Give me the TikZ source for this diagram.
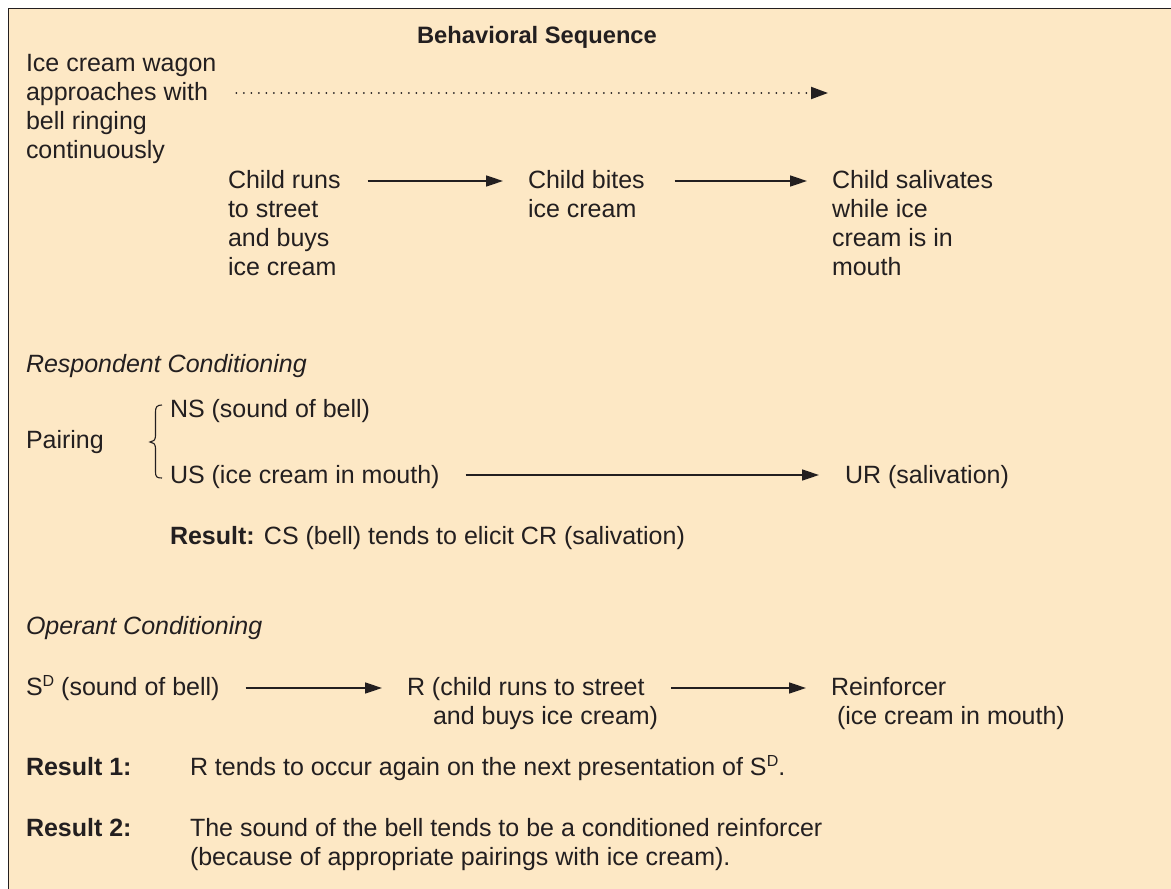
\documentclass[tikz,border=0pt]{standalone}
\usepackage{fontspec}
\setmainfont{Liberation Sans}
\usetikzlibrary{arrows.meta,calc}
\definecolor{panel}{RGB}{253,232,197}
\definecolor{ink}{RGB}{35,31,32}
% superscript D used in S^D
\newcommand\supD{\raisebox{9pt}{\fontsize{16}{16}\selectfont D}}
% left-aligned stack of lines whose baseline is that of the first line
\newcommand\linestack[1]{\begin{tabular}[t]{@{}l@{}}#1\end{tabular}}

\tikzset{
  txt/.style={inner sep=0pt, outer sep=0pt, text=ink, anchor=base west,
              font=\fontsize{25}{29}\selectfont},
  flow/.style={draw=ink, line width=1.6pt, -{Triangle[length=17pt,width=11pt]}},
  dotflow/.style={draw=ink, line width=2pt, line cap=round,
                  dash pattern=on 0pt off 7.5pt,
                  -{Triangle[length=17pt,width=12pt]}},
}

\begin{document}
\begin{tikzpicture}[x=1pt,y=-1pt]
\useasboundingbox (0,0) rectangle (1171,889);

% panel with top and left rule
\begin{scope}
  \clip (0,0) rectangle (1171,889);
  \fill[panel] (8.5,8.5) rectangle (1200,920);
  \draw[ink, line width=1.5pt] (1200,8.5) -- (8.5,8.5) -- (8.5,920);
\end{scope}

% ---- behavioral sequence ----
\node[txt, anchor=base, font=\fontsize{23.7}{29}\selectfont\bfseries] (title) at (537,43) {Behavioral Sequence};
\node[txt] (wagon) at (26,71) {\linestack{Ice cream wagon\\approaches with\\bell ringing\\continuously}};
\coordinate (dotend) at (828,93);
\draw[dotflow, shorten <=20pt] (wagon.east |- dotend) -- (dotend);

\node[txt] (runs) at (228,188) {\linestack{Child runs\\to street\\and buys\\ice cream}};
\node[txt] (bites) at (528,188) {\linestack{Child bites\\ice cream}};
\node[txt] (saliv) at (832,188) {\linestack{Child salivates\\while ice\\cream is in\\mouth}};
\draw[flow] ($(runs.base east)+(27,-7)$) -- ($(bites.base west)+(-25,-7)$);
\draw[flow] ($(bites.base east)+(30,-7)$) -- ($(saliv.base west)+(-25,-7)$);

% ---- respondent conditioning ----
\node[txt, font=\fontsize{25}{29}\selectfont\itshape] (resp) at (26,372) {Respondent Conditioning};
\node[txt] (pairing) at (26,448) {Pairing};
\node[txt] (ns) at (170,417) {NS (sound of bell)};
\node[txt] (us) at (170,483) {US (ice cream in mouth)};
\node[txt] (ur) at (845,483) {UR (salivation)};
\draw[flow] ($(us.base east)+(26,-8)$) -- ($(ur.base west)+(-26,-8)$);
% brace grouping NS and US
\draw[ink, line width=1.1pt]
  (162,405) .. controls (157,405) and (155.5,407) .. (155.5,412)
  -- (155.5,436) .. controls (155.5,440) and (153,442) .. (150,442)
  .. controls (153,442) and (155.5,444) .. (155.5,448)
  -- (155.5,472) .. controls (155.5,477) and (157,478) .. (162,478);
\node[txt] (res0) at (170,544) {\textbf{Result:} CS (bell) tends to elicit CR (salivation)};

% ---- operant conditioning ----
\node[txt, font=\fontsize{25}{29}\selectfont\itshape] (oper) at (26,634) {Operant Conditioning};
\node[txt] (sd) at (26,695) {S\supD{} (sound of bell)};
\node[txt] (rr) at (407,695) {\linestack{R (child runs to street\\\hspace*{26pt}and buys ice cream)}};
\node[txt] (reinf) at (831,695) {\linestack{Reinforcer\\\hspace*{6pt}(ice cream in mouth)}};
\draw[flow] ($(sd.base east)+(26,-7)$) -- ($(rr.base west)+(-25,-7)$);
\draw[flow] ($(rr.base east)+(13,-7)$) -- ($(reinf.base west)+(-25,-7)$);

\node[txt, font=\fontsize{25}{29}\selectfont\bfseries] (r1lab) at (26,775) {Result 1:};
\node[txt] (r1) at (190,775) {R tends to occur again on the next presentation of S\supD.};
\node[txt, font=\fontsize{25}{29}\selectfont\bfseries] (r2lab) at (26,836) {Result 2:};
\node[txt] (r2) at (190,836) {\linestack{The sound of the bell tends to be a conditioned reinforcer\\(because of appropriate pairings with ice cream).}};
\end{tikzpicture}
\end{document}
